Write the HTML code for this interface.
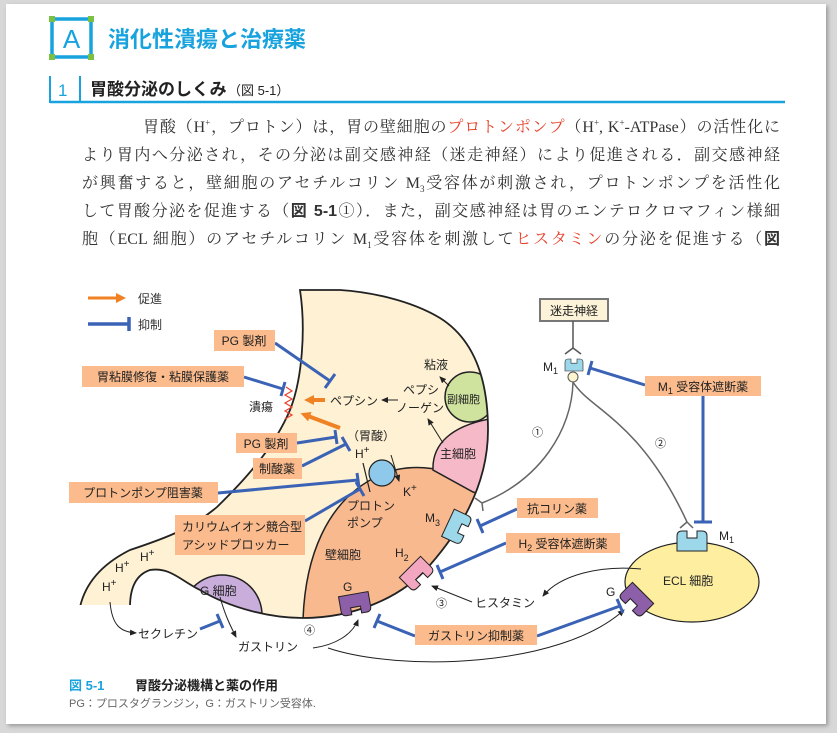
<!DOCTYPE html>
<html><head><meta charset="utf-8"><style>
body{margin:0;width:837px;height:733px;background:#d8d8d8;overflow:hidden;font-family:"Liberation Sans","Noto Sans CJK JP",sans-serif}
#pg{position:absolute;left:6px;top:4px;width:820px;height:720px;background:#fff;box-shadow:2px 2px 4px #999}
.ln{position:absolute;left:82px;width:698px;font-family:"Liberation Serif","Noto Serif CJK SC",serif;font-size:16px;color:#333;text-align:justify;text-align-last:justify;white-space:nowrap;height:20px;line-height:20px}
.r{color:#e8402a}
sup,sub{line-height:0}
svg{position:absolute;left:0;top:0}
</style></head><body>
<div id="pg"></div>
<div class="ln" style="top:118px;left:143px;width:637px">胃酸（H<sup style="font-size:9px">+</sup>，プロトン）は，胃の壁細胞の<span class="r">プロトンポンプ</span>（H<sup style="font-size:9px">+</sup>, K<sup style="font-size:9px">+</sup>-ATPase）の活性化に</div>
<div class="ln" style="top:146px">より胃内へ分泌され，その分泌は副交感神経（迷走神経）により促進される．副交感神経</div>
<div class="ln" style="top:174px">が興奮すると，壁細胞のアセチルコリン M<sub style="font-size:9px">3</sub>受容体が刺激され，プロトンポンプを活性化</div>
<div class="ln" style="top:202px">して胃酸分泌を促進する（<b style="font-family:'Liberation Sans','Noto Sans CJK JP',sans-serif">図 5-1</b>①）．また，副交感神経は胃のエンテロクロマフィン様細</div>
<div class="ln" style="top:230px">胞（ECL 細胞）のアセチルコリン M<sub style="font-size:9px">1</sub>受容体を刺激して<span class="r">ヒスタミン</span>の分泌を促進する（<b style="font-family:'Liberation Sans','Noto Sans CJK JP',sans-serif">図</b></div>
<svg width="837" height="733" viewBox="0 0 837 733" font-family="Liberation Sans, Noto Sans CJK JP, sans-serif">
<defs>
<path id="st" d="M300,290 C306,330 302,380 290,410 C275,445 250,475 217,507 C190,530 160,540 130,550 C100,565 85,585 80,607 L130,607 C130,590 135,575 150,570 C170,567 180,580 200,590 C230,608 270,618 303,618 C350,618 400,600 430,565 C465,525 488,480 488,430 C488,380 475,340 440,318 C410,300 370,292 340,290 Z"/>
<clipPath id="cp"><use href="#st"/></clipPath>
<path id="rc" d="M-15,10 L-15,-5 Q-15,-10 -10,-10 L-5,-10 L-5,-3 L5,-3 L5,-10 L10,-10 Q15,-10 15,-5 L15,10 Z"/>
<marker id="ab" markerUnits="userSpaceOnUse" markerWidth="8" markerHeight="8" refX="6" refY="3" orient="auto"><path d="M0,0 L7,3 L0,6 Z" fill="#222"/></marker>
<marker id="ao" markerUnits="userSpaceOnUse" markerWidth="12" markerHeight="12" refX="2" refY="5" orient="auto"><path d="M0,0 L10,5 L0,10 Z" fill="#f08224"/></marker>
</defs>
<!-- header -->
<rect x="52" y="19" width="39" height="38" fill="none" stroke="#18a3de" stroke-width="3.5"/>
<rect x="49" y="16" width="6" height="6" fill="#7ac143"/><rect x="88" y="16" width="6" height="6" fill="#7ac143"/>
<rect x="49" y="54" width="6" height="6" fill="#7ac143"/><rect x="88" y="54" width="6" height="6" fill="#7ac143"/>
<text x="71.5" y="48" font-size="26" fill="#18a3de" text-anchor="middle">A</text>
<text x="108" y="47" font-size="22" font-weight="bold" fill="#18a3de">消化性潰瘍と治療薬</text>
<path d="M50,76 V103 M80,76 V103" stroke="#18a3de" stroke-width="2"/>
<line x1="50" y1="102" x2="785" y2="102" stroke="#18a3de" stroke-width="2.5"/>
<text x="58" y="96" font-size="17" fill="#18a3de">1</text>
<text x="90" y="95" font-size="17" font-weight="bold" fill="#222">胃酸分泌のしくみ</text>
<text x="228" y="95" font-size="13" fill="#222">（図 5-1）</text>
<!-- legend -->
<line x1="88" y1="298" x2="118" y2="298" stroke="#f08224" stroke-width="3" marker-end="url(#ao)"/>
<text x="138" y="303" font-size="12" fill="#333">促進</text>
<path d="M88,324 H128 M129,317 V331" stroke="#3a62b5" stroke-width="3.5"/>
<text x="138" y="329" font-size="12" fill="#333">抑制</text>
<!-- stomach -->
<use href="#st" fill="#fef1d4"/>
<g clip-path="url(#cp)">
<path d="M303,620 C305,560 325,500 380,475 C410,462 450,465 490,492 L500,640 Z" fill="#f9b98f" stroke="#222" stroke-width="1.5"/>
<path d="M433,470 C432,445 450,425 495,418 L500,500 L473,492 Z" fill="#f6b9c8" stroke="#222" stroke-width="1.5"/>
<circle cx="470" cy="397" r="25" fill="#cfe29e" stroke="#222" stroke-width="1.5"/>
<circle cx="222" cy="615" r="40" fill="#c9aedb" stroke="#222" stroke-width="1.5"/>
</g>
<use href="#st" fill="none" stroke="#222" stroke-width="1.8"/>
<rect x="60" y="605" width="100" height="4" fill="#fff"/>
<!-- ECL -->
<ellipse cx="692" cy="582" rx="67" ry="40" fill="#fdeea0" stroke="#222" stroke-width="1.2"/>
<!-- ulcer -->
<path d="M286,387 l6,4 l-7,4 l7,4 l-7,4 l7,4 l-7,4 l7,4 l-7,4" fill="none" stroke="#e8402a" stroke-width="1.2"/>
<text x="249" y="411" font-size="12" fill="#222">潰瘍</text>
<line x1="325" y1="400" x2="312" y2="400" stroke="#f08224" stroke-width="4" marker-end="url(#ao)"/>
<line x1="340" y1="428" x2="308" y2="416" stroke="#f08224" stroke-width="4" marker-end="url(#ao)"/>
<g font-size="12" fill="#222">
<text x="330" y="405">ペプシン</text>
<text x="403" y="394">ペプシ</text><text x="396" y="412">ノーゲン</text>
<text x="424" y="369">粘液</text>
<text x="447" y="403" font-size="11">副細胞</text>
<text x="440" y="458">主細胞</text>
<text x="347" y="440">（胃酸）</text>
<text x="355" y="458">H<tspan dy="-5" font-size="10">+</tspan></text>
<text x="403" y="496">K<tspan dy="-5" font-size="10">+</tspan></text>
<text x="347" y="510">プロトン</text><text x="347" y="527">ポンプ</text>
<text x="425" y="522">M<tspan dy="4" font-size="9">3</tspan></text>
<text x="325" y="559">壁細胞</text>
<text x="395" y="557">H<tspan dy="4" font-size="9">2</tspan></text>
<text x="343" y="591">G</text>
<text x="140" y="561">H<tspan dy="-5" font-size="10">+</tspan></text>
<text x="115" y="572">H<tspan dy="-5" font-size="10">+</tspan></text>
<text x="102" y="591">H<tspan dy="-5" font-size="10">+</tspan></text>
<text x="200" y="595">G 細胞</text>
<text x="138" y="638">セクレチン</text>
<text x="238" y="651">ガストリン</text>
<text x="304" y="634" font-size="11">④</text>
<text x="436" y="607" font-size="11">③</text>
<text x="475" y="607">ヒスタミン</text>
<text x="532" y="436" font-size="11">①</text>
<text x="655" y="447" font-size="11">②</text>
<text x="663" y="585">ECL 細胞</text>
<text x="606" y="596">G</text>
<text x="543" y="371">M<tspan dy="3" font-size="9">1</tspan></text>
<text x="719" y="540">M<tspan dy="3" font-size="9">1</tspan></text>
</g>
<line x1="398" y1="400" x2="382" y2="400" stroke="#222" stroke-width="1" marker-end="url(#ab)"/>
<line x1="449" y1="386" x2="440" y2="377" stroke="#222" stroke-width="1" marker-end="url(#ab)"/>
<line x1="443" y1="443" x2="428" y2="419" stroke="#222" stroke-width="1" marker-end="url(#ab)"/>
<!-- pump -->
<circle cx="382" cy="473" r="13" fill="#8ec8ea" stroke="#222" stroke-width="1.2"/>
<line x1="363" y1="463" x2="370" y2="492" stroke="#222" stroke-width="1.2"/>
<line x1="391" y1="455" x2="399" y2="481" stroke="#222" stroke-width="1" marker-end="url(#ab)"/>
<!-- receptors -->
<use href="#rc" transform="translate(457,527) rotate(115)" fill="#9dd7ea" stroke="#222" stroke-width="1"/>
<use href="#rc" transform="translate(417,574) rotate(135)" fill="#f3a6c0" stroke="#222" stroke-width="1"/>
<use href="#rc" transform="translate(355,604) rotate(170)" fill="#8d5fa8" stroke="#222" stroke-width="1"/>
<use href="#rc" transform="translate(692,541)" fill="#9dd7ea" stroke="#222" stroke-width="1"/>
<use href="#rc" transform="translate(636,600) rotate(225)" fill="#8d5fa8" stroke="#222" stroke-width="1"/>
<!-- vagus -->
<rect x="540" y="299" width="68" height="22" fill="#fdf3d8" stroke="#777" stroke-width="2"/>
<text x="574" y="315" font-size="12" fill="#222" text-anchor="middle">迷走神経</text>
<path d="M573,321 V348 M573,348 L565,354 M573,348 L581,354" stroke="#555" stroke-width="1.5" fill="none"/>
<use href="#rc" transform="translate(574,365) scale(0.6,0.6)" fill="#9dd7ea" stroke="#222" stroke-width="1"/>
<circle cx="573" cy="377" r="5" fill="#fef5d0" stroke="#555"/>
<path d="M573,382 C572,430 540,480 482,503 M482,503 L475,498 M482,503 L483,511" stroke="#666" stroke-width="1.5" fill="none"/>
<path d="M573,382 C590,410 640,420 687,522 M687,522 L680,528 M687,522 L693,528" stroke="#666" stroke-width="1.5" fill="none"/>
<!-- black arrows -->
<path d="M110,602 C112,625 120,632 136,633" stroke="#222" fill="none" stroke-width="1" marker-end="url(#ab)"/>
<path d="M220,597 C225,615 230,625 236,637" stroke="#222" fill="none" stroke-width="1" marker-end="url(#ab)"/>
<path d="M313,648 C335,645 352,635 358,620" stroke="#222" fill="none" stroke-width="1" marker-end="url(#ab)"/>
<path d="M328,648 C400,672 560,668 624,610" stroke="#222" fill="none" stroke-width="1" marker-end="url(#ab)"/>
<path d="M472,602 L432,586" stroke="#222" fill="none" stroke-width="1" marker-end="url(#ab)"/>
<path d="M641,569 C600,565 560,575 543,596" stroke="#222" fill="none" stroke-width="1" marker-end="url(#ab)"/>
<!-- inhibit lines -->
<g stroke="#3a62b5" stroke-width="3" fill="none">
<path d="M275,343 L330,381 M325,388 L335,374"/>
<path d="M244,377 L283,389 M281,396 L285,382"/>
<path d="M297,443 L336,437 M335,430 L337,444"/>
<path d="M302,466 L346,444 M342,437 L350,451"/>
<path d="M218,493 L358,480 M357,473 L359,487"/>
<path d="M305,521 L360,489 M356,482 L364,496"/>
<path d="M517,509 L480,526 M477,519 L483,533"/>
<path d="M506,543 L440,572 M437,565 L443,579"/>
<path d="M415,636 L377,621 M380,614 L374,628"/>
<path d="M537,636 L620,606 M617,599 L623,613"/>
<path d="M200,629 L220,621 M217,614 L223,628"/>
<path d="M645,385 L590,368 M592,361 L588,375"/>
<path d="M703,396 V522 M694,522 H712"/>
</g>
<!-- drug boxes -->
<g fill="#fbbb8c">
<rect x="214" y="330" width="61" height="21"/><rect x="82" y="366" width="162" height="21"/>
<rect x="236" y="433" width="61" height="20"/><rect x="253" y="458" width="49" height="21"/>
<rect x="69" y="482" width="149" height="21"/><rect x="175" y="515" width="130" height="40"/>
<rect x="415" y="625" width="122" height="20"/><rect x="517" y="498" width="81" height="20"/>
<rect x="506" y="533" width="114" height="20"/><rect x="645" y="376" width="116" height="20"/>
</g>
<g font-size="12" fill="#222">
<text x="244" y="345" text-anchor="middle">PG 製剤</text>
<text x="163" y="381" text-anchor="middle">胃粘膜修復・粘膜保護薬</text>
<text x="266" y="448" text-anchor="middle">PG 製剤</text>
<text x="277" y="473" text-anchor="middle">制酸薬</text>
<text x="143" y="497" text-anchor="middle">プロトンポンプ阻害薬</text>
<text x="182" y="531">カリウムイオン競合型</text>
<text x="182" y="549">アシッドブロッカー</text>
<text x="476" y="640" text-anchor="middle">ガストリン抑制薬</text>
<text x="557" y="513" text-anchor="middle">抗コリン薬</text>
<text x="563" y="548" text-anchor="middle">H<tspan dy="3" font-size="9">2</tspan><tspan dy="-3"> 受容体遮断薬</tspan></text>
<text x="703" y="391" text-anchor="middle">M<tspan dy="3" font-size="9">1</tspan><tspan dy="-3"> 受容体遮断薬</tspan></text>
</g>
<!-- caption -->
<text x="69" y="690" font-size="13" font-weight="bold" fill="#18a3de">図 5-1</text>
<text x="135" y="690" font-size="13" font-weight="bold" fill="#222">胃酸分泌機構と薬の作用</text>
<text x="69" y="707" font-size="11" fill="#666">PG：プロスタグランジン，G：ガストリン受容体.</text>
</svg>
</body></html>
